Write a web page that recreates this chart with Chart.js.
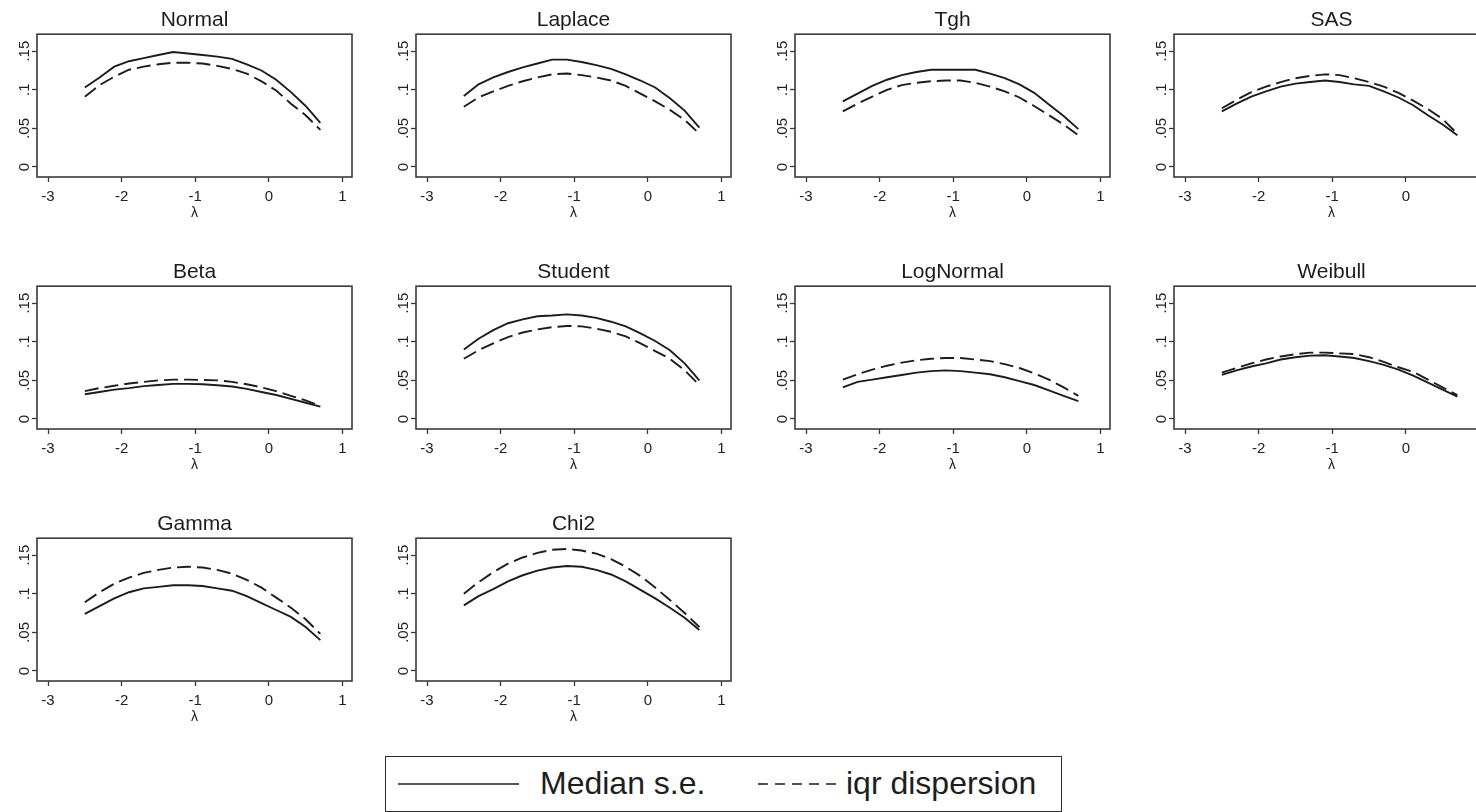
<!DOCTYPE html>
<html>
<head>
<meta charset="utf-8">
<title>Median s.e. and iqr dispersion by λ</title>
<script src="https://cdn.jsdelivr.net/npm/chart.js@4.4.1/dist/chart.umd.min.js"></script>
<style>
  html, body { margin: 0; padding: 0; background: #fff; overflow: hidden; }
  #wrap { position: relative; width: 1476px; height: 812px; overflow: hidden; background: #fff; }
  .panel { position: absolute; }
  #legend {
    position: absolute; left: 385px; top: 756px; width: 677px; height: 56px;
    border: 1.6px solid #2e2e2e; box-sizing: border-box; background: #fff;
    font-family: "Liberation Sans", Arial, sans-serif; font-size: 32px; color: #1e1e1e;
  }
  #legend svg { position: absolute; }
  #legend span { position: absolute; top: 8px; line-height: 36px; white-space: nowrap; }
</style>
</head>
<body>
<div id="wrap">
  <div id="legend">
    <svg id="keySolid" style="left:12px;top:22px" width="121" height="10"></svg>
    <span id="labSolid" style="left:154px"></span>
    <svg id="keyDash" style="left:372px;top:22px" width="80" height="10"></svg>
    <span id="labDash" style="left:460px"></span>
  </div>
</div>
<script>
// λ grid shared by every panel
const lambdaGrid = [-2.5, -2.3, -2.1, -1.9, -1.7, -1.5, -1.3, -1.1, -0.9, -0.7, -0.5, -0.3, -0.1, 0.1, 0.3, 0.5, 0.7];

// axis ticks
const xTickValues = [-3, -2, -1, 0, 1];
const xTickLabels = ['-3', '-2', '-1', '0', '1'];
const yTickValues = [0, 0.05, 0.1, 0.15];
const yTickLabels = ['0', '.05', '.1', '.15'];

// series names
const seriesLabels = ['Median s.e.', 'iqr dispersion'];
const panelNames = ['Normal', 'Laplace', 'Tgh', 'SAS', 'Beta', 'Student', 'LogNormal', 'Weibull', 'Gamma', 'Chi2'];

// median standard error / iqr dispersion per distribution
const normalMedian    = [0.103, 0.116, 0.130, 0.137, 0.141, 0.145, 0.149, 0.147, 0.145, 0.143, 0.140, 0.133, 0.125, 0.113, 0.097, 0.079, 0.057];
const normalIqr       = [0.091, 0.106, 0.117, 0.126, 0.130, 0.133, 0.135, 0.135, 0.134, 0.131, 0.127, 0.121, 0.111, 0.099, 0.082, 0.067, 0.048];
const laplaceMedian   = [0.092, 0.107, 0.116, 0.123, 0.129, 0.134, 0.139, 0.139, 0.136, 0.132, 0.127, 0.120, 0.112, 0.103, 0.089, 0.073, 0.051];
const laplaceIqr      = [0.078, 0.090, 0.098, 0.105, 0.111, 0.116, 0.120, 0.121, 0.119, 0.116, 0.112, 0.105, 0.095, 0.085, 0.074, 0.061, 0.043];
const tghMedian       = [0.085, 0.095, 0.105, 0.113, 0.119, 0.123, 0.126, 0.126, 0.126, 0.126, 0.121, 0.115, 0.107, 0.096, 0.081, 0.066, 0.049];
const tghIqr          = [0.072, 0.082, 0.091, 0.100, 0.106, 0.109, 0.111, 0.112, 0.112, 0.109, 0.104, 0.098, 0.090, 0.079, 0.067, 0.055, 0.041];
const sasMedian       = [0.072, 0.082, 0.091, 0.098, 0.104, 0.108, 0.110, 0.112, 0.110, 0.107, 0.105, 0.098, 0.090, 0.080, 0.067, 0.055, 0.041];
const sasIqr          = [0.076, 0.087, 0.097, 0.104, 0.110, 0.115, 0.118, 0.120, 0.119, 0.115, 0.110, 0.104, 0.096, 0.086, 0.075, 0.062, 0.043];
const betaMedian      = [0.032, 0.035, 0.038, 0.040, 0.0425, 0.044, 0.0455, 0.0455, 0.045, 0.0436, 0.042, 0.039, 0.035, 0.031, 0.026, 0.021, 0.016];
const betaIqr         = [0.036, 0.040, 0.043, 0.046, 0.048, 0.050, 0.051, 0.051, 0.0505, 0.050, 0.048, 0.045, 0.041, 0.036, 0.030, 0.024, 0.017];
const studentMedian   = [0.090, 0.104, 0.115, 0.124, 0.129, 0.133, 0.134, 0.1355, 0.134, 0.131, 0.126, 0.120, 0.111, 0.101, 0.089, 0.072, 0.050];
const studentIqr      = [0.078, 0.089, 0.098, 0.106, 0.112, 0.116, 0.119, 0.1205, 0.120, 0.117, 0.113, 0.107, 0.098, 0.088, 0.078, 0.063, 0.044];
const logNormalMedian = [0.041, 0.048, 0.051, 0.054, 0.057, 0.060, 0.062, 0.063, 0.062, 0.060, 0.058, 0.054, 0.049, 0.044, 0.037, 0.030, 0.023];
const logNormalIqr    = [0.051, 0.058, 0.064, 0.069, 0.073, 0.076, 0.078, 0.079, 0.079, 0.077, 0.075, 0.071, 0.066, 0.059, 0.051, 0.041, 0.030];
const weibullMedian   = [0.057, 0.063, 0.068, 0.072, 0.077, 0.080, 0.082, 0.0826, 0.081, 0.079, 0.075, 0.070, 0.064, 0.056, 0.047, 0.038, 0.029];
const weibullIqr      = [0.060, 0.066, 0.072, 0.077, 0.081, 0.084, 0.086, 0.086, 0.085, 0.084, 0.080, 0.074, 0.067, 0.061, 0.051, 0.041, 0.031];
const gammaMedian     = [0.074, 0.084, 0.094, 0.102, 0.107, 0.109, 0.111, 0.111, 0.110, 0.107, 0.104, 0.097, 0.088, 0.079, 0.070, 0.057, 0.040];
const gammaIqr        = [0.089, 0.102, 0.113, 0.121, 0.127, 0.131, 0.134, 0.135, 0.134, 0.131, 0.126, 0.118, 0.108, 0.095, 0.082, 0.067, 0.048];
const chi2Median      = [0.085, 0.097, 0.106, 0.116, 0.124, 0.130, 0.134, 0.136, 0.135, 0.131, 0.125, 0.116, 0.105, 0.094, 0.082, 0.069, 0.053];
const chi2Iqr         = [0.100, 0.115, 0.128, 0.139, 0.147, 0.153, 0.157, 0.158, 0.156, 0.152, 0.145, 0.135, 0.123, 0.108, 0.092, 0.075, 0.057];

const panelSeries = [
  [normalMedian, normalIqr], [laplaceMedian, laplaceIqr], [tghMedian, tghIqr], [sasMedian, sasIqr],
  [betaMedian, betaIqr], [studentMedian, studentIqr], [logNormalMedian, logNormalIqr], [weibullMedian, weibullIqr],
  [gammaMedian, gammaIqr], [chi2Median, chi2Iqr]
];

const FONT = '"Liberation Sans", Arial, Helvetica, sans-serif';
const INK = '#1c1c1c';
const FRAME = '#3a3a3a';
const DASH = [14, 6];
const CELL_W = 379, CELL_H = 252;

// box around each plot region
const plotFrame = {
  id: 'plotFrame',
  afterDatasetsDraw(chart) {
    const { ctx, chartArea: a } = chart;
    ctx.save();
    ctx.strokeStyle = FRAME;
    ctx.lineWidth = 1.6;
    ctx.strokeRect(a.left, a.top, a.right - a.left, a.bottom - a.top);
    ctx.restore();
  }
};

const toPoints = (vals) => vals.map((v, i) => ({ x: lambdaGrid[i], y: v }));

const wrap = document.getElementById('wrap');
panelNames.forEach((name, i) => {
  const col = i % 4, row = Math.floor(i / 4);
  const canvas = document.createElement('canvas');
  canvas.className = 'panel';
  canvas.width = CELL_W; canvas.height = CELL_H;
  canvas.style.left = (col * CELL_W) + 'px';
  canvas.style.top = (row * CELL_H) + 'px';
  canvas.style.width = CELL_W + 'px';
  canvas.style.height = CELL_H + 'px';
  wrap.insertBefore(canvas, wrap.firstChild);

  const [med, iqr] = panelSeries[i];
  new Chart(canvas, {
    type: 'line',
    data: {
      datasets: [
        { label: seriesLabels[0], data: toPoints(med), borderColor: INK, borderWidth: 1.9, pointRadius: 0, tension: 0, fill: false },
        { label: seriesLabels[1], data: toPoints(iqr), borderColor: INK, borderWidth: 1.9, borderDash: DASH, pointRadius: 0, tension: 0, fill: false }
      ]
    },
    options: {
      responsive: false,
      animation: false,
      devicePixelRatio: 1,
      layout: { padding: { left: 0, right: 27, top: 0, bottom: 0 } },
      plugins: {
        legend: { display: false },
        tooltip: { enabled: false },
        title: {
          display: true, text: name, fullSize: false, color: INK,
          font: { family: FONT, size: 21, weight: 'normal' },
          padding: { top: 8, bottom: 1 }
        }
      },
      scales: {
        x: {
          type: 'linear', min: -3.15, max: 1.13,
          afterBuildTicks: (s) => { s.ticks = xTickValues.map(v => ({ value: v })); },
          afterFit: (s) => { s.height = 75; },
          ticks: {
            color: '#222', font: { family: FONT, size: 15 }, padding: 6, maxRotation: 0, minRotation: 0,
            callback: (v) => { const k = xTickValues.indexOf(v); return k >= 0 ? xTickLabels[k] : ''; }
          },
          grid: { display: true, drawOnChartArea: false, drawTicks: true, tickLength: 5, tickColor: FRAME, tickWidth: 1.3 },
          border: { display: false },
          title: { display: true, text: 'λ', color: '#222', font: { family: FONT, size: 14 }, padding: { top: 0, bottom: 30 } }
        },
        y: {
          type: 'linear', min: -0.013, max: 0.172,
          afterBuildTicks: (s) => { s.ticks = yTickValues.map(v => ({ value: v })); },
          afterFit: (s) => { s.width = 37; },
          ticks: {
            color: '#222', font: { family: FONT, size: 15 }, minRotation: 90, maxRotation: 90,
            crossAlign: 'center', padding: -3.5,
            callback: (v) => { const k = yTickValues.findIndex(t => Math.abs(t - v) < 1e-9); return k >= 0 ? yTickLabels[k] : ''; }
          },
          grid: { display: true, drawOnChartArea: false, drawTicks: true, tickLength: 5, tickColor: FRAME, tickWidth: 1.3 },
          border: { display: false }
        }
      }
    },
    plugins: [plotFrame]
  });
});

// legend keys
function drawKey(id, dashed) {
  const svg = document.getElementById(id);
  const w = svg.getAttribute('width');
  const ln = document.createElementNS('http://www.w3.org/2000/svg', 'line');
  ln.setAttribute('x1', 0); ln.setAttribute('x2', w);
  ln.setAttribute('y1', 5); ln.setAttribute('y2', 5);
  ln.setAttribute('stroke', INK); ln.setAttribute('stroke-width', 1.6);
  if (dashed) ln.setAttribute('stroke-dasharray', '10 7');
  svg.appendChild(ln);
}
drawKey('keySolid', false);
drawKey('keyDash', true);
document.getElementById('labSolid').textContent = seriesLabels[0];
document.getElementById('labDash').textContent = seriesLabels[1];
</script>
</body>
</html>
